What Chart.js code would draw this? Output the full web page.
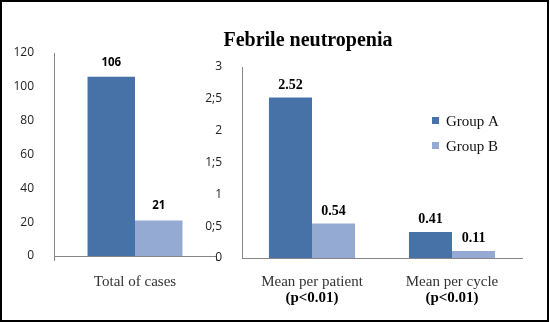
<!DOCTYPE html>
<html>
<head>
<meta charset="utf-8">
<script src="https://cdn.jsdelivr.net/npm/chart.js@4.4.0/dist/chart.umd.min.js"></script>
<style>
  body { margin: 0; background: #fff; }
  #frame { position: absolute; left: 0; top: 0; width: 549px; height: 322px; box-sizing: border-box; border: 2px solid #000; }
  #totalChart { position: absolute; left: 0; top: 0; }
  #meanChart { position: absolute; left: 200px; top: 0; }
</style>
</head>
<body>
<canvas id="totalChart" width="225" height="322"></canvas>
<canvas id="meanChart" width="350" height="322"></canvas>
<div id="frame"></div>
<script>
const groupNames = ["Group A", "Group B"];
const groupColors = ["#4672A8", "#95AAD3"];

const totalCategories = ["Total of cases"];
const totalGroupA = [106];
const totalGroupB = [21];

const meanCategories = ["Mean per patient", "Mean per cycle"];
const meanPValues = ["(p<0.01)", "(p<0.01)"];
const meanGroupA = [2.52, 0.41];
const meanGroupB = [0.54, 0.11];
const meanTicks = ["0", "0;5", "1", "1;5", "2", "2;5", "3"];

const chartTitle = "Febrile neutropenia";

const axisGrey = "#868686";
const tickFont = { family: "'Open Sans'", size: 12 };
const serif = "'Liberation Serif'";

// numbers above the bars
const valueLabels = {
  id: "valueLabels",
  afterDatasetsDraw(chart, args, opts) {
    const c = chart.ctx;
    c.save();
    c.font = opts.font;
    c.fillStyle = "#000";
    c.textAlign = "center";
    c.textBaseline = "alphabetic";
    chart.data.datasets.forEach((ds, i) => {
      chart.getDatasetMeta(i).data.forEach((bar, j) => {
        c.fillText(ds.data[j].toFixed(opts.decimals), bar.x, bar.y - opts.gap);
      });
    });
    c.restore();
  }
};

// title, legend and p-values of the right panel
const meanExtras = {
  id: "meanExtras",
  afterDraw(chart) {
    const c = chart.ctx;
    const area = chart.chartArea;
    const x = chart.scales.x;
    c.save();
    c.fillStyle = "#000";
    c.textBaseline = "alphabetic";

    c.textAlign = "center";
    c.font = "bold 20px " + serif;
    c.fillText(chartTitle, area.left + 66, 46);

    c.font = "bold 15px " + serif;
    meanPValues.forEach((t, i) => c.fillText(t, x.getPixelForTick(i), x.top + 44));

    c.textAlign = "left";
    c.font = "15px " + serif;
    groupNames.forEach((name, i) => {
      const y = 117 + i * 25;
      c.fillStyle = groupColors[i];
      c.fillRect(area.left + 190, y, 7, 7);
      c.fillStyle = "#111";
      c.fillText(name, area.left + 204, y + 9);
    });
    c.restore();
  }
};

function dataset(i, values, pct) {
  return {
    label: groupNames[i],
    data: values,
    backgroundColor: groupColors[i],
    categoryPercentage: pct,
    barPercentage: 1
  };
}

new Chart(document.getElementById("totalChart"), {
  type: "bar",
  data: {
    labels: totalCategories,
    datasets: [dataset(0, totalGroupA, 0.586), dataset(1, totalGroupB, 0.586)]
  },
  plugins: [valueLabels],
  options: {
    responsive: false,
    animation: false,
    layout: { padding: { top: 53, right: 9, left: 0, bottom: 0 } },
    scales: {
      x: {
        grid: { display: true, drawOnChartArea: false, tickLength: 5, color: axisGrey },
        border: { color: axisGrey },
        ticks: { font: { family: serif, size: 15 }, color: "#333", padding: 12 },
        afterFit: (s) => { s.height = 66; }
      },
      y: {
        min: 0,
        max: 120,
        grid: { display: false },
        border: { color: axisGrey },
        ticks: { stepSize: 20, font: tickFont, color: "#222", padding: 12 },
        afterFit: (s) => { s.width = 54; }
      }
    },
    plugins: {
      legend: { display: false },
      tooltip: { enabled: false },
      valueLabels: { font: "bold 11.5px 'Open Sans'", decimals: 0, gap: 11 }
    }
  }
});

new Chart(document.getElementById("meanChart"), {
  type: "bar",
  data: {
    labels: meanCategories,
    datasets: [dataset(0, meanGroupA, 0.615), dataset(1, meanGroupB, 0.615)]
  },
  plugins: [valueLabels, meanExtras],
  options: {
    responsive: false,
    animation: false,
    layout: { padding: { top: 67, right: 28, left: 0, bottom: 0 } },
    scales: {
      x: {
        grid: { display: false },
        border: { color: axisGrey },
        ticks: { font: { family: serif, size: 15 }, color: "#333", padding: 7 },
        afterFit: (s) => { s.height = 64; }
      },
      y: {
        min: 0,
        max: 3,
        grid: { display: false },
        border: { color: axisGrey },
        ticks: {
          stepSize: 0.5,
          font: tickFont,
          color: "#222",
          padding: 12,
          callback: (v, i) => meanTicks[i]
        },
        afterFit: (s) => { s.width = 42; }
      }
    },
    plugins: {
      legend: { display: false },
      tooltip: { enabled: false },
      valueLabels: { font: "bold 14px " + serif, decimals: 2, gap: 9 }
    }
  }
});
</script>
</body>
</html>
